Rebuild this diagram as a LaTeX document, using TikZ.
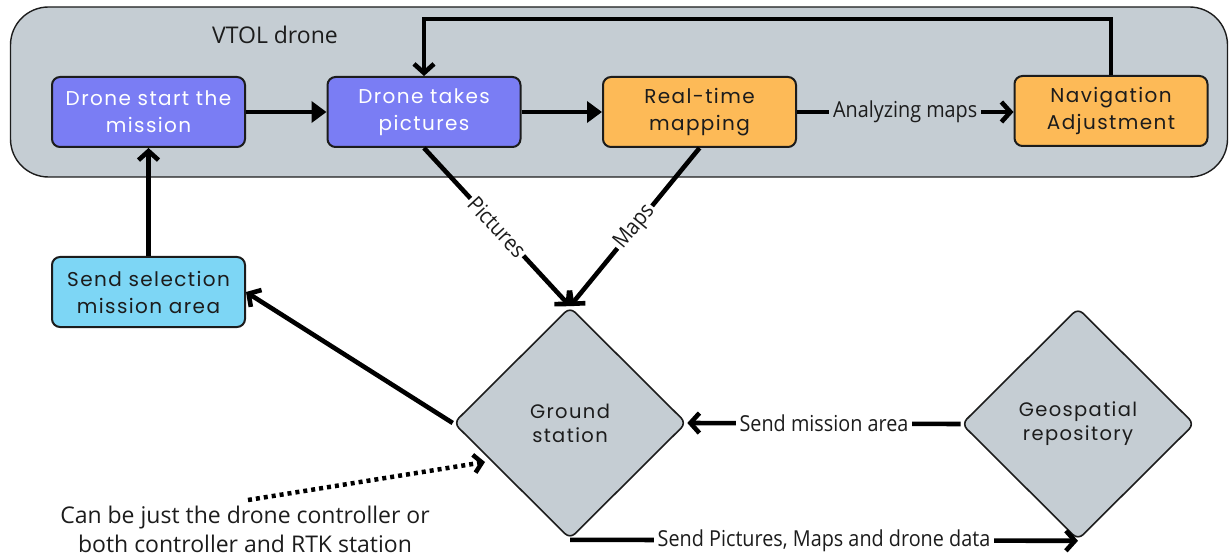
\documentclass[tikz,border=0pt]{standalone}
\usepackage{fontspec}
\setmainfont{Open Sans}
\newfontfamily\boxfont{Poppins}[LetterSpace=7]
\newfontfamily\labelfont{Open Sans}[FakeStretch=0.9]
\usetikzlibrary{arrows.meta,shapes.geometric,calc}

\definecolor{panelgray}{HTML}{C5CDD3}
\definecolor{violetbox}{HTML}{7A7DF4}
\definecolor{orangebox}{HTML}{FDBA57}
\definecolor{cyanbox}{HTML}{7DD6F5}
\definecolor{inkdark}{HTML}{1C1C1C}

\tikzset{
  procbox/.style={draw=inkdark, line width=2pt, rounded corners=8pt,
    minimum width=193pt, minimum height=70pt, align=center,
    font=\boxfont\fontsize{20}{27}\selectfont, inner sep=0pt},
  violet/.style={procbox, fill=violetbox, text=white},
  orange/.style={procbox, fill=orangebox, text=inkdark},
  cyan/.style={procbox, fill=cyanbox, text=inkdark},
  station/.style={shape=diamond, draw=inkdark, line width=1.6pt, fill=panelgray,
    rounded corners=7pt, minimum width=233pt, minimum height=232pt, inner sep=0pt,
    align=center, text=inkdark, font=\boxfont\fontsize{19.5}{24}\selectfont},
  link/.style={line width=4.6pt, draw=black},
  barb/.style={-{Straight Barb[length=9pt,width=20pt,line width=4.6pt]}},
  solidtip/.style={-{Triangle[length=15pt,width=21pt]}},
  lbl/.style={font=\labelfont\fontsize{22}{26}\selectfont, text=inkdark, inner sep=4pt},
}

\begin{document}
\begin{tikzpicture}[x=1pt,y=-1pt]
  \useasboundingbox (0,0) rectangle (1229,556);

  % on-board container
  \node[draw=inkdark, line width=1.4pt, fill=panelgray, rounded corners=38pt,
        minimum width=1217pt, minimum height=170pt, inner sep=0pt]
        (vtol) at (619,92) {};
  \node[font=\fontsize{23}{26}\selectfont, text=inkdark] (vtoltitle) at (275,35) {VTOL drone};

  % process boxes
  \node[violet] (start)  at (148.5,112) {Drone start the\\mission};
  \node[violet] (photos) at (424,112)   {Drone takes\\pictures};
  \node[orange] (mapping) at (699.5,112) {Real-time\\mapping};
  \node[orange] (navadj) at (1111,111)  {Navigation\\Adjustment};
  \node[cyan]   (select) at (148.5,292) {Send selection\\mission area};

  % ground side
  \node[station] (ground) at (570,423) {Ground\\station};
  \node[station] (geo)    at (1078,424) {Geospatial\\repository};

  % flow inside the drone
  \draw[link, solidtip] (start.east) -- (photos.west);
  \draw[link, solidtip] (photos.east) -- (mapping.west);
  \draw[link, barb] (mapping.east) -- node[lbl, fill=panelgray] (lblanalyze) {Analyzing maps} (navadj.west |- mapping.east);
  \draw[link, barb] (navadj.north) -- ++(0,-56) -| (photos.north);

  % links to and from the ground station
  \draw[link, barb] (select.north) -- (start.south);
  \draw[link, barb] (photos.south) -- node[lbl, fill=white, sloped, inner sep=2pt] (lblpics) {Pictures} (ground.north);
  \draw[link, barb] (mapping.south) -- node[lbl, fill=white, sloped, inner sep=2pt] (lblmaps) {Maps} (ground.north);
  \draw[link, barb] (ground.west) -- (select.east);
  \draw[link, barb] (geo.west) -- node[lbl, fill=white] (lblsend) {Send mission area} (ground.east);
  \draw[link, barb] (ground.south) -- node[lbl, fill=white] (lbldata) {Send Pictures, Maps and drone data} (geo.south);

  % annotation
  \node[align=center, text=inkdark, inner sep=0pt, font=\fontsize{23}{29}\selectfont] (note) at (245,529)
       {Can be just the drone controller or\\both controller and RTK station};
  \coordinate (notetail) at (248,500);
  \coordinate (notetip) at (485,462);
  \draw[line width=4.5pt, dash pattern=on 4pt off 4pt,
        -{Straight Barb[length=8pt,width=18pt,line width=4.5pt]}] (notetail) -- (notetip);
\end{tikzpicture}
\end{document}
